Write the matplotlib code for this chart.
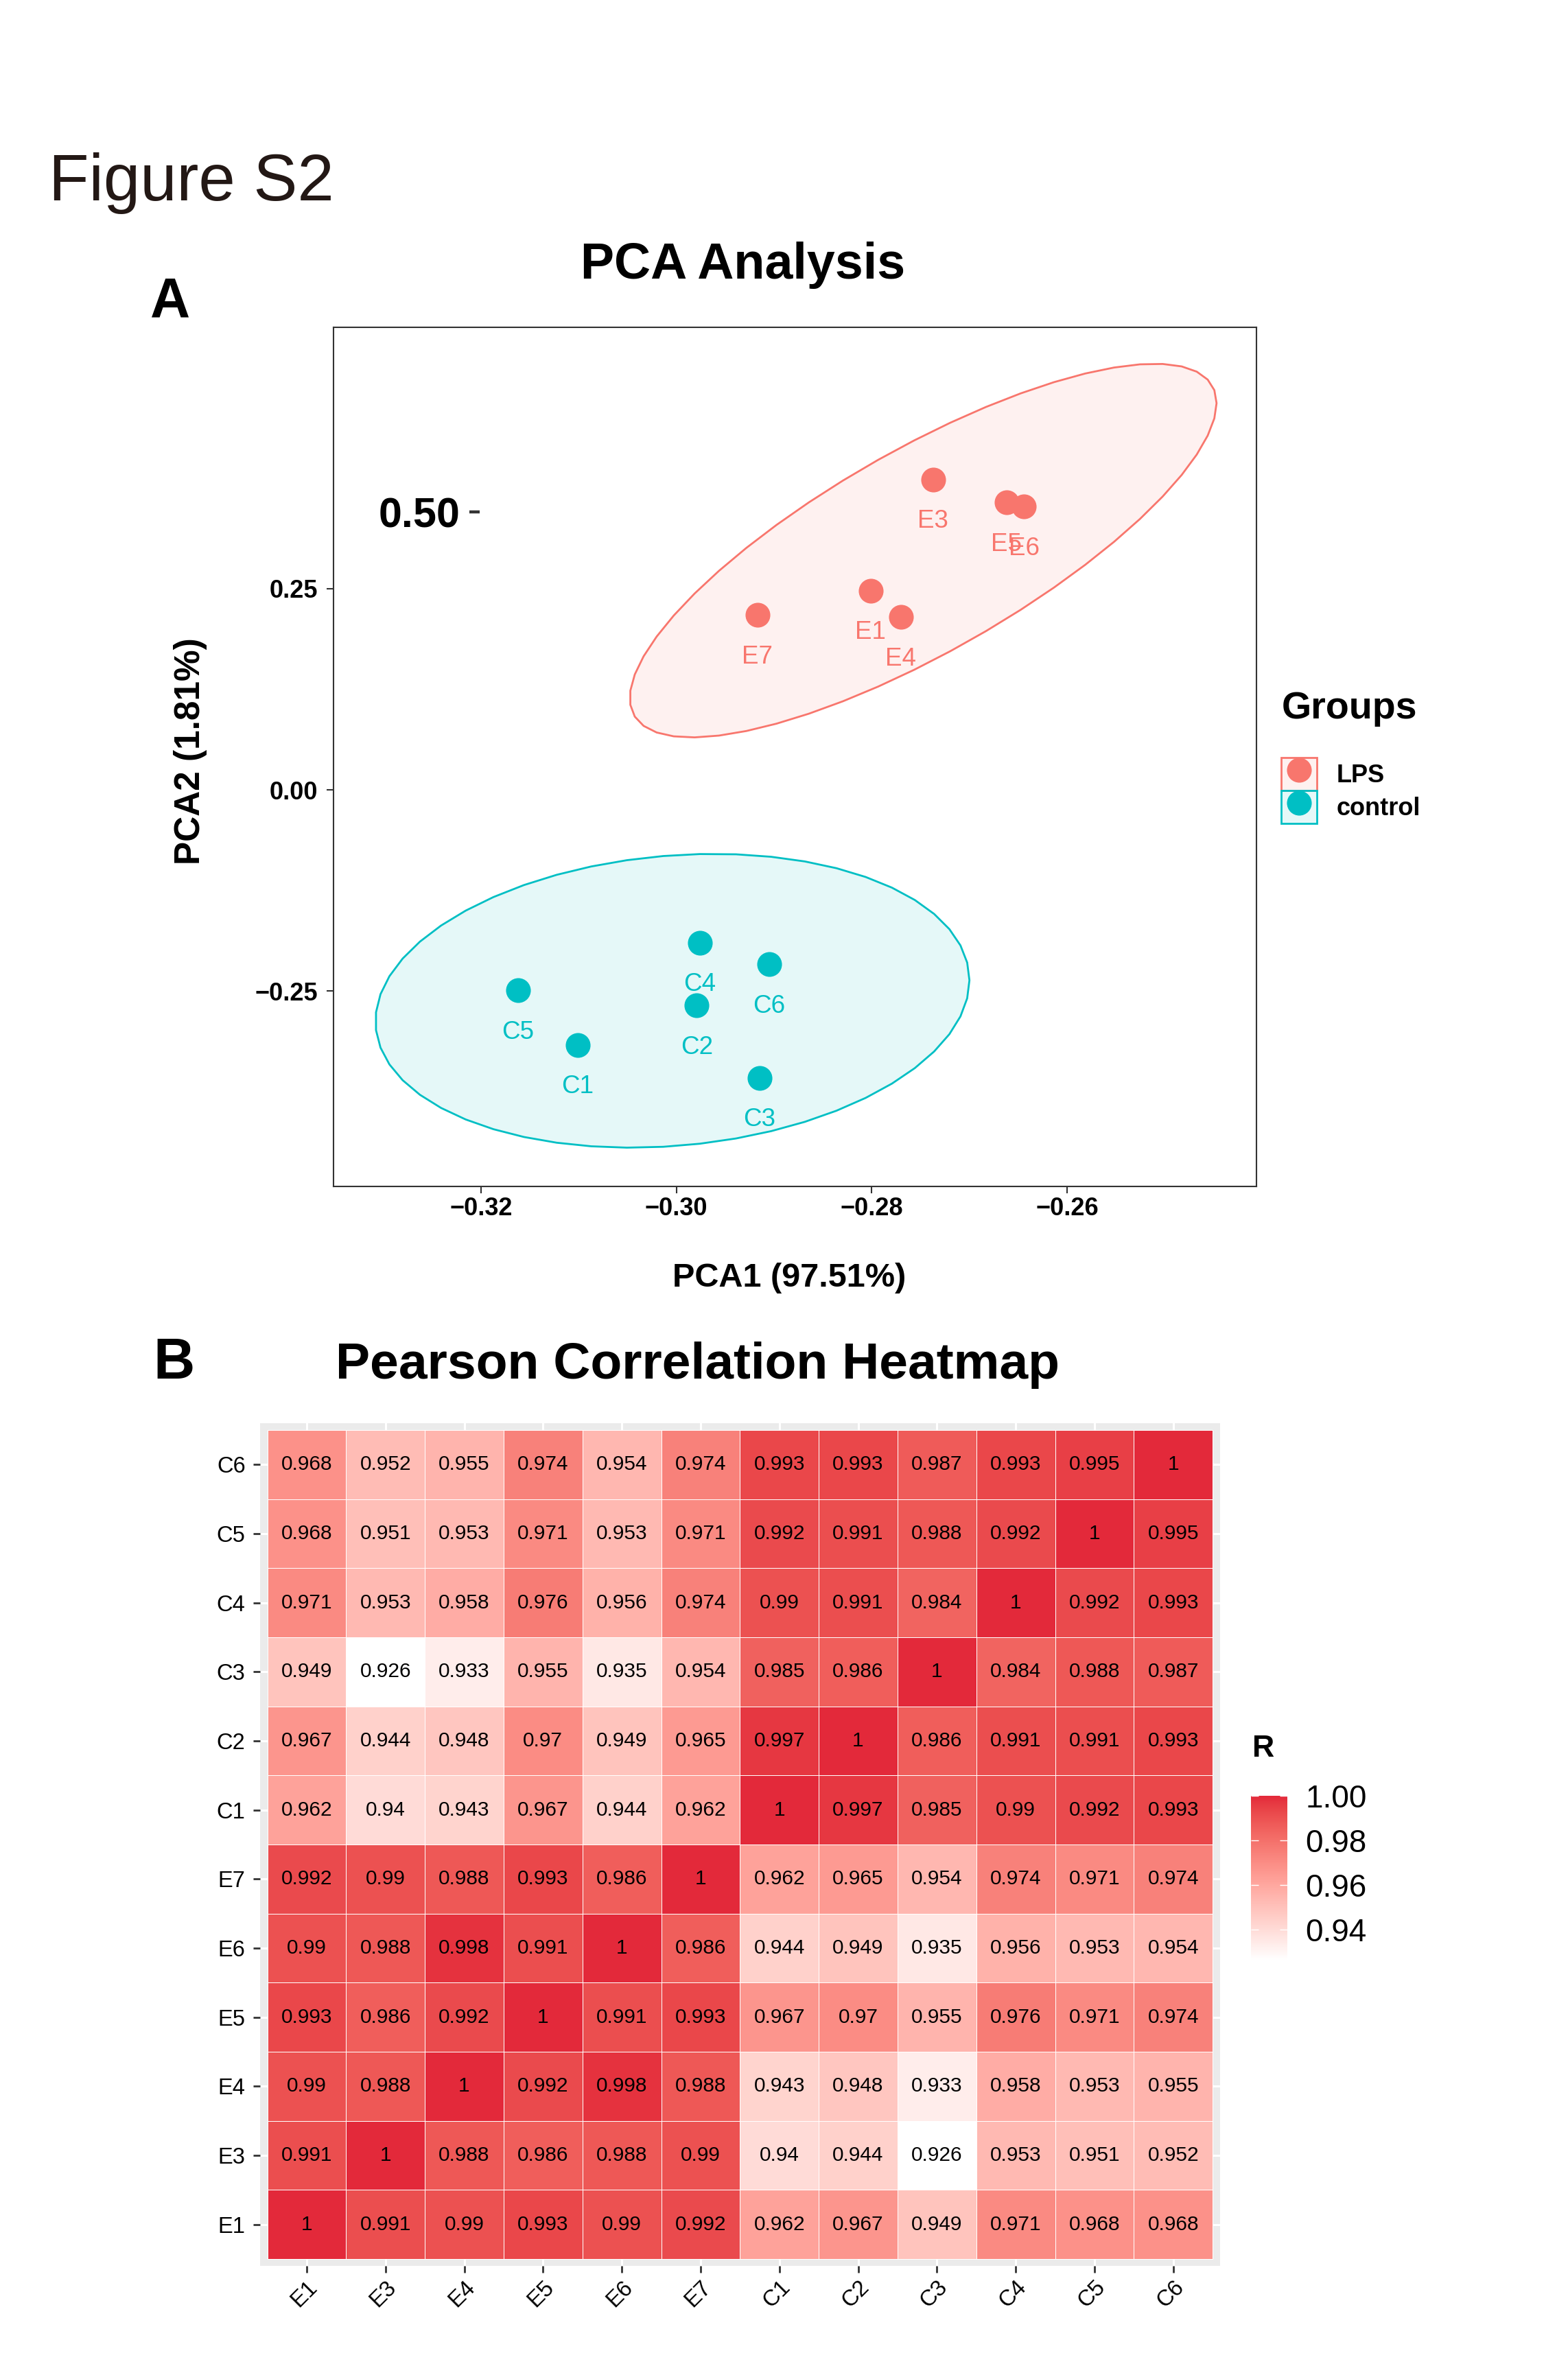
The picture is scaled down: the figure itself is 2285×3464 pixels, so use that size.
import numpy as np
import matplotlib
matplotlib.use('Agg')
import matplotlib.pyplot as plt
from matplotlib.colors import LinearSegmentedColormap, Normalize, to_rgb, to_rgba
from matplotlib.patches import Polygon, Patch
from matplotlib.lines import Line2D
from matplotlib.legend_handler import HandlerTuple
from matplotlib.ticker import FuncFormatter

plt.rcParams['font.family'] = ['Liberation Sans', 'DejaVu Sans']

# panel A - PCA scores
lps_names = ['E1', 'E3', 'E4', 'E5', 'E6', 'E7']
lps_pc1 = [-0.2801, -0.2737, -0.2770, -0.2662, -0.2644, -0.2917]
lps_pc2 = [0.2477, 0.3860, 0.2150, 0.3575, 0.3520, 0.2172]
ctrl_names = ['C1', 'C2', 'C3', 'C4', 'C5', 'C6']
ctrl_pc1 = [-0.3101, -0.2979, -0.2915, -0.2976, -0.3162, -0.2905]
ctrl_pc2 = [-0.317, -0.268, -0.358, -0.190, -0.249, -0.217]
group_names = ['LPS', 'control']
group_colours = ['#F8766D', '#00BFC4']
pca_xticks = [-0.32, -0.30, -0.28, -0.26]
pca_yticks = [-0.25, 0.00, 0.25]

# panel B - Pearson correlation matrix, same order on both axes (bottom-up / left-right)
samples = ['E1', 'E3', 'E4', 'E5', 'E6', 'E7', 'C1', 'C2', 'C3', 'C4', 'C5', 'C6']
corr = [
    [1, 0.991, 0.99, 0.993, 0.99, 0.992, 0.962, 0.967, 0.949, 0.971, 0.968, 0.968],
    [0.991, 1, 0.988, 0.986, 0.988, 0.99, 0.94, 0.944, 0.926, 0.953, 0.951, 0.952],
    [0.99, 0.988, 1, 0.992, 0.998, 0.988, 0.943, 0.948, 0.933, 0.958, 0.953, 0.955],
    [0.993, 0.986, 0.992, 1, 0.991, 0.993, 0.967, 0.97, 0.955, 0.976, 0.971, 0.974],
    [0.99, 0.988, 0.998, 0.991, 1, 0.986, 0.944, 0.949, 0.935, 0.956, 0.953, 0.954],
    [0.992, 0.99, 0.988, 0.993, 0.986, 1, 0.962, 0.965, 0.954, 0.974, 0.971, 0.974],
    [0.962, 0.94, 0.943, 0.967, 0.944, 0.962, 1, 0.997, 0.985, 0.99, 0.992, 0.993],
    [0.967, 0.944, 0.948, 0.97, 0.949, 0.965, 0.997, 1, 0.986, 0.991, 0.991, 0.993],
    [0.949, 0.926, 0.933, 0.955, 0.935, 0.954, 0.985, 0.986, 1, 0.984, 0.988, 0.987],
    [0.971, 0.953, 0.958, 0.976, 0.956, 0.974, 0.99, 0.991, 0.984, 1, 0.992, 0.993],
    [0.968, 0.951, 0.953, 0.971, 0.953, 0.971, 0.992, 0.991, 0.988, 0.992, 1, 0.995],
    [0.968, 0.952, 0.955, 0.974, 0.954, 0.974, 0.993, 0.993, 0.987, 0.993, 0.995, 1],
]
cbar_ticks = [0.94, 0.96, 0.98, 1.00]

W, H, DPI = 2285, 3464, 100


def fx(px):
    return px / W


def fy(py):
    return 1 - py / H


# robust covariance (t-distribution), as MASS::cov.trob does
def cov_trob(pts, nu=5, maxit=25, tol=0.01):
    n, p = pts.shape
    loc = pts.mean(axis=0)
    w = np.ones(n)
    for _ in range(maxit):
        w0 = w
        X = pts - loc
        sw = np.sqrt(w / w.sum())
        _, d, vt = np.linalg.svd(sw[:, None] * X, full_matrices=False)
        wX = X @ vt.T @ np.diag(1 / d)
        Q = (wX ** 2).sum(axis=1)
        w = (nu + p) / (nu + Q)
        loc = (w[:, None] * pts).sum(axis=0) / w.sum()
        if np.all(np.abs(w - w0) < tol):
            break
    cov = (np.sqrt(w)[:, None] * X).T @ (np.sqrt(w)[:, None] * X) / n
    return loc, cov


# 95% ellipse like ggplot2::stat_ellipse(type='t')
def ellipse(xs, ys, level=0.95, segments=51):
    pts = np.column_stack([xs, ys])
    dfd = len(xs) - 1
    fq = dfd / 2 * ((1 - level) ** (-2 / dfd) - 1)   # qf(level, 2, dfd)
    radius = np.sqrt(2 * fq)
    centre, shape = cov_trob(pts)
    L = np.linalg.cholesky(shape)
    ang = np.linspace(0, 2 * np.pi, segments + 1)
    circle = np.column_stack([np.cos(ang), np.sin(ang)])
    return centre + radius * circle @ L.T


# white -> red gradient interpolated in Lab (ggplot scale_fill_gradient)
M = np.array([[0.4124564, 0.3575761, 0.1804375],
              [0.2126729, 0.7151522, 0.0721750],
              [0.0193339, 0.1191920, 0.9503041]])
WHITE = np.array([0.95047, 1.0, 1.08883])


def to_lab(colour):
    c = np.array(to_rgb(colour))
    lin = np.where(c <= 0.04045, c / 12.92, ((c + 0.055) / 1.055) ** 2.4)
    t = (M @ lin) / WHITE
    f = np.where(t > (6 / 29) ** 3, np.cbrt(t), t / (3 * (6 / 29) ** 2) + 4 / 29)
    return np.array([116 * f[1] - 16, 500 * (f[0] - f[1]), 200 * (f[1] - f[2])])


def from_lab(lab):
    fy_ = (lab[0] + 16) / 116
    f = np.array([fy_ + lab[1] / 500, fy_, fy_ - lab[2] / 200])
    t = np.where(f > 6 / 29, f ** 3, 3 * (6 / 29) ** 2 * (f - 4 / 29))
    lin = np.clip(np.linalg.solve(M, t * WHITE), 0, 1)
    c = np.where(lin <= 0.0031308, 12.92 * lin, 1.055 * lin ** (1 / 2.4) - 0.055)
    return np.clip(c, 0, 1)


lo, hi = to_lab('#FFFFFF'), to_lab('#E3293A')
cmap = LinearSegmentedColormap.from_list(
    'wr', [from_lab(lo + t * (hi - lo)) for t in np.linspace(0, 1, 256)])

fig = plt.figure(figsize=(W / DPI, H / DPI), dpi=DPI)

fig.text(fx(71), fy(292), 'Figure S2', fontsize=69, color='#231815', ha='left', va='baseline')
fig.text(fx(219), fy(461), 'A', fontsize=58, fontweight='bold', ha='left', va='baseline')
fig.text(fx(1083), fy(406), 'PCA Analysis', fontsize=53, fontweight='bold', ha='center', va='baseline')
fig.text(fx(223), fy(2009), 'B', fontsize=60, fontweight='bold', ha='left', va='baseline')
fig.text(fx(489), fy(2009), 'Pearson Correlation Heatmap', fontsize=54, fontweight='bold',
         ha='left', va='baseline')

# ---- panel A ----
ax = fig.add_axes([fx(486), fy(1729), (1831 - 486) / W, (1729 - 477) / H])
groups = [(lps_names, lps_pc1, lps_pc2), (ctrl_names, ctrl_pc1, ctrl_pc2)]
for (names, xs, ys), col in zip(groups, group_colours):
    poly = ellipse(xs, ys)
    ax.add_patch(Polygon(poly, closed=True, facecolor=to_rgba(col, 0.1), edgecolor=col,
                         linewidth=2, zorder=1))
    ax.scatter(xs, ys, s=676, color=col, linewidths=0, zorder=3)
    for name, x, y in zip(names, xs, ys):
        ax.annotate(name, (x, y), xytext=(0, -44), textcoords='offset points',
                    ha='center', va='center', fontsize=26.5, color=col, zorder=4)

ax.set_xlim(-0.3351, -0.2406)
ax.set_ylim(-0.493, 0.575)
ax.set_xticks(pca_xticks)
ax.set_yticks(pca_yticks)
fmt = FuncFormatter(lambda v, pos: f'{v:.2f}'.replace('-', '\u2212'))
ax.xaxis.set_major_formatter(fmt)
ax.yaxis.set_major_formatter(fmt)
ax.tick_params(axis='both', length=7.2, width=1.5, color='#333333', labelsize=26)
ax.tick_params(axis='x', pad=3.5)
ax.tick_params(axis='y', pad=9)
for lab in ax.get_xticklabels() + ax.get_yticklabels():
    lab.set_fontweight('bold')
for sp in ax.spines.values():
    sp.set_color('#333333')
    sp.set_linewidth(1.5)

# stray "0.50" label sitting inside the panel
ax.text(0.0491, 0.7668, '0.50', transform=ax.transAxes, fontsize=44, fontweight='bold',
        ha='left', va='baseline')
ax.plot([0.1472, 0.1584], [0.7851, 0.7851], transform=ax.transAxes, color='#333333',
        linewidth=3.2, solid_capstyle='butt')

fig.text(fx(1150), fy(1875), 'PCA1 (97.51%)', fontsize=35, fontweight='bold',
         ha='center', va='baseline')
fig.text(fx(278), fy(1095), 'PCA2 (1.81%)', fontsize=37, fontweight='bold',
         ha='center', va='center', rotation=90)

handles = [(Patch(facecolor=to_rgba(c, 0.1), edgecolor=c, linewidth=2),
            Line2D([], [], marker='o', linestyle='', color=c, markersize=26, markeredgewidth=0))
           for c in group_colours]
fig.legend(handles, group_names, handler_map={tuple: HandlerTuple(ndivide=1, pad=0)},
           loc='upper left', bbox_to_anchor=(fx(1867), fy(1104)), bbox_transform=fig.transFigure,
           frameon=False, borderpad=0, borderaxespad=0, handlelength=1.44, handleheight=1.67,
           handletextpad=0.78, labelspacing=0, prop={'size': 26, 'weight': 'bold'})
fig.text(fx(1868), fy(1047), 'Groups', fontsize=40, fontweight='bold', ha='left', va='baseline')

# ---- panel B ----
n = len(samples)
hx = fig.add_axes([fx(378.7), fy(3302), (1778 - 378.7) / W, (3302 - 2074) / H])
hx.set_facecolor('#EBEBEB')
hx.set_axisbelow(True)
hx.grid(True, color='white', linewidth=2.2)
norm = Normalize(vmin=np.min(corr), vmax=np.max(corr))
edges = np.arange(n + 1) - 0.5
mesh = hx.pcolormesh(edges, edges, np.array(corr), cmap=cmap, norm=norm,
                     edgecolors='white', linewidth=0.6)
for i in range(n):
    for j in range(n):
        hx.text(j, i, f'{corr[i][j]:g}', ha='center', va='center', fontsize=21.5, color='black')
hx.set_xlim(-0.5945, n - 1 + 0.5945)
hx.set_ylim(-0.6, n - 1 + 0.6)
hx.set_xticks(range(n))
hx.set_yticks(range(n))
hx.set_xticklabels(samples, rotation=45, ha='right', va='top', rotation_mode='anchor')
hx.set_yticklabels(samples)
hx.tick_params(axis='both', length=7.2, width=2, color='#333333', labelsize=23.5)
hx.tick_params(axis='x', pad=4)
hx.tick_params(axis='y', pad=8)
for sp in hx.spines.values():
    sp.set_visible(False)

cax = fig.add_axes([fx(1823), fy(2857), 53 / W, 240 / H])
cb = fig.colorbar(mesh, cax=cax, ticks=cbar_ticks)
cb.outline.set_visible(False)
cax.yaxis.set_major_formatter(FuncFormatter(lambda v, pos: f'{v:.2f}'))
cax.tick_params(length=0, labelsize=33, pad=19)
tr = cax.get_yaxis_transform()
cax.hlines(cbar_ticks, 0, 0.2, transform=tr, color='white', linewidth=1)
cax.hlines(cbar_ticks, 0.8, 1, transform=tr, color='white', linewidth=1)
fig.text(fx(1825), fy(2560), 'R', fontsize=32, fontweight='bold', ha='left', va='baseline')

fig.savefig('out.png', dpi=DPI)
